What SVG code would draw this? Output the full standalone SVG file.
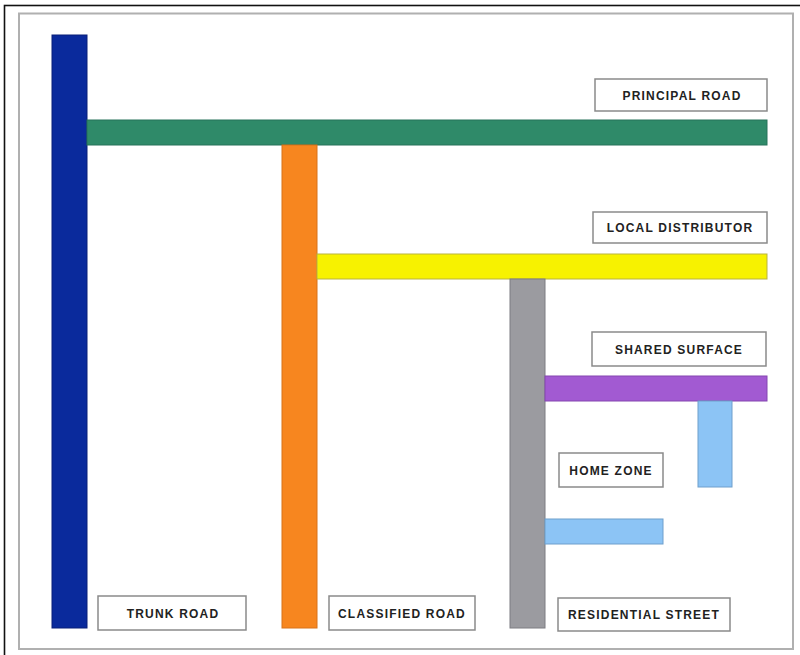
<svg xmlns="http://www.w3.org/2000/svg" width="800" height="655" viewBox="0 0 800 655">
<style>
.lbl rect{fill:#fff;stroke:#8a8a8a;stroke-width:1.5}
.lbl text{font-family:"Liberation Sans",Arial,sans-serif;font-weight:bold;font-size:12px;letter-spacing:1.2px;fill:#222;text-anchor:middle}
.road{stroke-width:1}
</style>
<rect x="0" y="0" width="800" height="655" fill="#fff"/>
<rect x="4.5" y="5.5" width="805" height="660" fill="none" stroke="#111" stroke-width="1.6"/>
<rect x="19" y="13.5" width="774" height="635.5" fill="none" stroke="#b0b0b0" stroke-width="2"/>
<g id="roads">
<g id="trunk-road-bar"><rect class="road" x="52" y="35" width="35" height="593" fill="#0a2a9c" stroke="#081f78"/></g>
<g id="principal-road-bar"><rect class="road" x="87" y="120" width="680" height="25" fill="#2f8a69" stroke="#26735a"/></g>
<g id="classified-road-bar"><rect class="road" x="282" y="145" width="35" height="483" fill="#f7861f" stroke="#d8731a"/></g>
<g id="local-distributor-bar"><rect class="road" x="317" y="254" width="450" height="25" fill="#f7f200" stroke="#b9b340"/></g>
<g id="residential-street-bar"><rect class="road" x="510" y="279" width="35" height="349" fill="#9b9ba0" stroke="#7d7d82"/></g>
<g id="shared-surface-bar"><rect class="road" x="545" y="376" width="222" height="25" fill="#a25ad2" stroke="#8447b0"/></g>
<g id="home-zone-bar-vertical"><rect class="road" x="698" y="401" width="34" height="86" fill="#8cc4f5" stroke="#6f9fcc"/></g>
<g id="home-zone-bar-horizontal"><rect class="road" x="545" y="519" width="118" height="25" fill="#8cc4f5" stroke="#6f9fcc"/></g>
</g>
<g id="label-principal-road" class="lbl"><rect x="595" y="79" width="172" height="32"/><text x="682" y="99.5">PRINCIPAL ROAD</text></g>
<g id="label-local-distributor" class="lbl"><rect x="593" y="212" width="174" height="31"/><text x="680" y="232">LOCAL DISTRIBUTOR</text></g>
<g id="label-shared-surface" class="lbl"><rect x="592" y="332" width="174" height="34"/><text x="679" y="353.5">SHARED SURFACE</text></g>
<g id="label-home-zone" class="lbl"><rect x="559" y="453" width="104" height="34"/><text x="611" y="474.5">HOME ZONE</text></g>
<g id="label-trunk-road" class="lbl"><rect x="98" y="596" width="148" height="34"/><text x="173" y="617.5">TRUNK ROAD</text></g>
<g id="label-classified-road" class="lbl"><rect x="329" y="596" width="146" height="34"/><text x="402" y="617.5">CLASSIFIED ROAD</text></g>
<g id="label-residential-street" class="lbl"><rect x="558" y="598" width="172" height="33"/><text x="644" y="619">RESIDENTIAL STREET</text></g>
</svg>
